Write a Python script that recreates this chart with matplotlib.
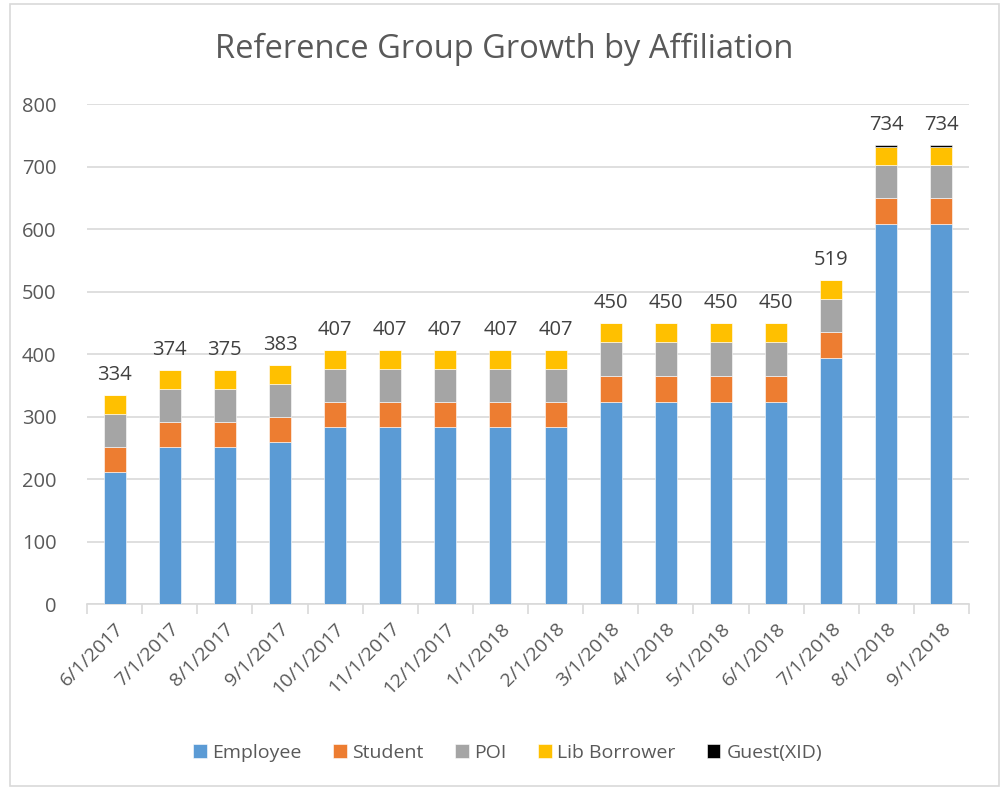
import numpy as np
import matplotlib
matplotlib.use('Agg')
import matplotlib.pyplot as plt
from matplotlib.patches import Rectangle

plt.rcParams['font.family'] = ['Open Sans', 'DejaVu Sans']

# data
dates = ['6/1/2017', '7/1/2017', '8/1/2017', '9/1/2017', '10/1/2017', '11/1/2017',
         '12/1/2017', '1/1/2018', '2/1/2018', '3/1/2018', '4/1/2018', '5/1/2018',
         '6/1/2018', '7/1/2018', '8/1/2018', '9/1/2018']
employee = [212, 251, 251, 259, 283, 283, 283, 283, 283, 323, 323, 323, 323, 393, 608, 608]
student = [40, 40, 40, 40, 40, 40, 40, 40, 40, 42, 42, 42, 42, 42, 42, 42]
poi = [52, 53, 53, 53, 53, 53, 53, 53, 53, 54, 54, 54, 54, 53, 53, 53]
lib_borrower = [30, 30, 30, 30, 30, 30, 30, 30, 30, 30, 30, 30, 30, 30, 29, 29]
guest = [0, 0, 1, 1, 1, 1, 1, 1, 1, 1, 1, 1, 1, 1, 2, 2]

series = [('Employee', employee, '#5b9bd5'),
          ('Student', student, '#ed7d31'),
          ('POI', poi, '#a5a5a5'),
          ('Lib Borrower', lib_borrower, '#ffc000'),
          ('Guest(XID)', guest, '#000000')]

txt = '#595959'
grid = '#d9d9d9'

fig = plt.figure(figsize=(10.05, 7.88), dpi=100)
fig.patches.append(Rectangle((0.010, 0.003), 0.984, 0.992, transform=fig.transFigure,
                             fill=False, edgecolor=grid, linewidth=1.2))
ax = fig.add_axes([0.0866, 0.2335, 0.8776, 0.6345])

x = np.arange(len(dates))
bottom = np.zeros(len(dates))
for name, vals, col in series:
    ax.bar(x, vals, 0.4, bottom=bottom, color=col, label=name,
           edgecolor='white', linewidth=0.4, zorder=3)
    bottom += np.array(vals)

totals = bottom
for xi, t in zip(x, totals):
    ax.text(xi, t + 16, f'{int(t)}', ha='center', va='bottom', fontsize=14.5, color='#404040')

ax.set_xlim(-0.5, len(dates) - 0.5)
ax.set_ylim(0, 800)
ax.set_yticks(np.arange(0, 801, 100))
ax.set_xticks(x)
ax.set_xticklabels(dates, rotation=45, ha='right', rotation_mode='anchor')
ax.set_xticks(np.arange(-0.5, len(dates)), minor=True)
ax.tick_params(axis='x', which='major', length=0, labelsize=14, colors=txt, pad=11)
ax.tick_params(axis='x', which='minor', length=7, color=grid, width=1.2)
ax.tick_params(axis='y', length=0, labelsize=14.5, colors=txt, pad=22)
ax.grid(axis='y', color=grid, linewidth=1.2, zorder=0)
for s in ['top', 'right', 'left']:
    ax.spines[s].set_visible(False)
ax.spines['bottom'].set_color(grid)
ax.spines['bottom'].set_linewidth(1.2)

fig.text(0.502, 0.937, 'Reference Group Growth by Affiliation', ha='center', va='center',
         fontsize=23.5, color=txt)

fig.legend(loc='center', bbox_to_anchor=(0.505, 0.045), ncol=5, frameon=False,
           fontsize=14, labelcolor=txt, handlelength=0.7, handleheight=0.7,
           handletextpad=0.3, columnspacing=1.6)

fig.savefig('out.png', dpi=100)
